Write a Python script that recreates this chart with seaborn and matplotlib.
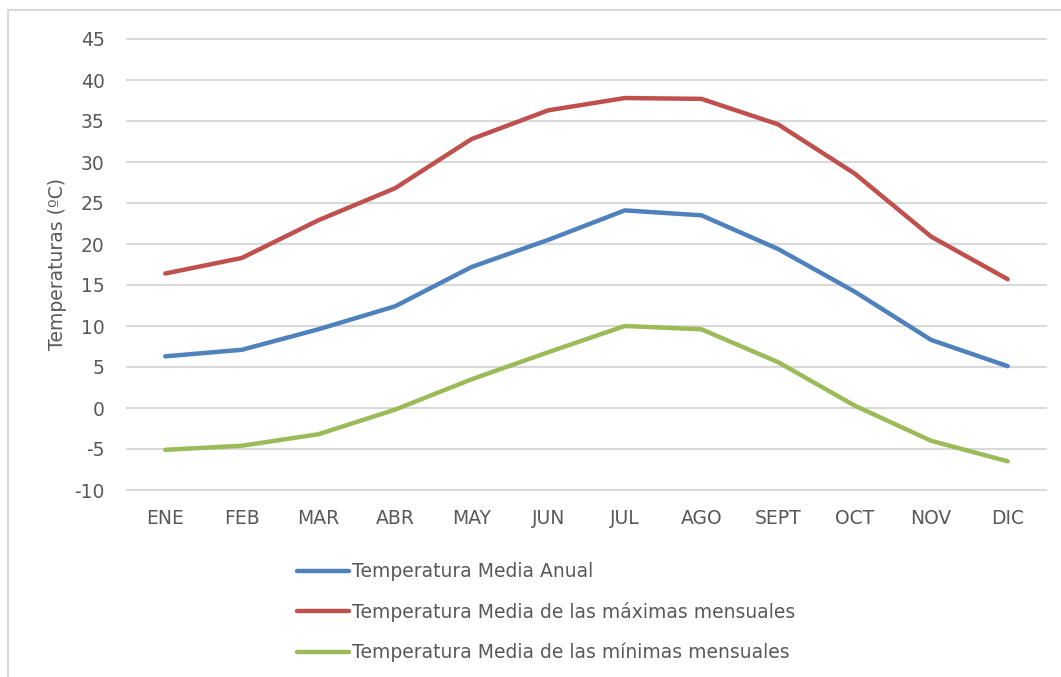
import pandas as pd
import matplotlib
matplotlib.use('Agg')
import matplotlib.pyplot as plt
import seaborn as sns
from matplotlib.lines import Line2D

# ==========================================
# Datos
# ==========================================
meses = ['ENE', 'FEB', 'MAR', 'ABR', 'MAY', 'JUN', 'JUL', 'AGO', 'SEPT', 'OCT', 'NOV', 'DIC']
t_media = [6.3, 7.1, 9.6, 12.4, 17.2, 20.5, 24.1, 23.5, 19.4, 14.2, 8.3, 5.1]
t_max = [16.4, 18.3, 22.9, 26.8, 32.8, 36.3, 37.8, 37.7, 34.6, 28.6, 20.9, 15.7]
t_min = [-5.1, -4.6, -3.2, -0.2, 3.5, 6.8, 10.0, 9.6, 5.6, 0.3, -4.0, -6.5]

series = ['Temperatura Media Anual',
          'Temperatura Media de las máximas mensuales',
          'Temperatura Media de las mínimas mensuales']
colores = ['#4F81BD', '#C0504D', '#9BBB59']

df = pd.concat([
    pd.DataFrame({'mes': meses, 'pos': range(len(meses)), 'temp': vals, 'serie': s})
    for s, vals in zip(series, [t_media, t_max, t_min])
])

# ==========================================
# Estilo
# ==========================================
sns.set_theme(style='white')
plt.rcParams['font.family'] = ['DejaVu Sans']
plt.rcParams['axes.unicode_minus'] = False
gris = '#595959'
fs = 13.5

W, H = 1061, 677
fig = plt.figure(figsize=(W / 100, H / 100), dpi=100)
ax = fig.add_axes([127 / W, 1 - 490 / H, (1046 - 127) / W, (490 - 39) / H])

sns.lineplot(data=df, x='pos', y='temp', hue='serie', hue_order=series,
             palette=colores, linewidth=3.2, ax=ax, legend=False,
             solid_capstyle='round', solid_joinstyle='round')

ax.set_xlim(-0.5, len(meses) - 0.5)
ax.set_ylim(-10, 45)
ax.set_yticks(range(-10, 50, 5))
ax.set_xticks(range(len(meses)))
ax.set_xticklabels(meses)
ax.grid(axis='y', color='#D9D9D9', linewidth=1.5)
for gl in ax.get_ygridlines():
    gl.set_clip_on(False)
ax.set_axisbelow(True)
for sp in ax.spines.values():
    sp.set_visible(False)
ax.tick_params(axis='y', length=0, pad=16, labelsize=fs, labelcolor=gris)
ax.tick_params(axis='x', length=0, pad=14, labelsize=fs, labelcolor=gris)
ax.set_xlabel('')
ax.set_ylabel('Temperaturas (ºC)', fontsize=fs, color=gris)
ax.yaxis.set_label_coords(-60 / (1046 - 127), 0.5)

# Leyenda debajo
handles = [Line2D([0], [0], color=c, linewidth=3.2, solid_capstyle='round') for c in colores]
fig.legend(handles, series, loc='upper left', bbox_to_anchor=(288 / W, 1 - 553 / H),
           frameon=False, fontsize=fs, labelcolor=gris, handlelength=2.75,
           handletextpad=0.15, labelspacing=1.1, borderpad=0)

# Borde del gráfico (izquierda y arriba)
fig.add_artist(Line2D([8 / W, 8 / W], [0, 1 - 10 / H], color='#D9D9D9', linewidth=1.5))
fig.add_artist(Line2D([8 / W, 1], [1 - 10 / H, 1 - 10 / H], color='#D9D9D9', linewidth=1.5))

fig.savefig('out.png', dpi=100, facecolor='white')
